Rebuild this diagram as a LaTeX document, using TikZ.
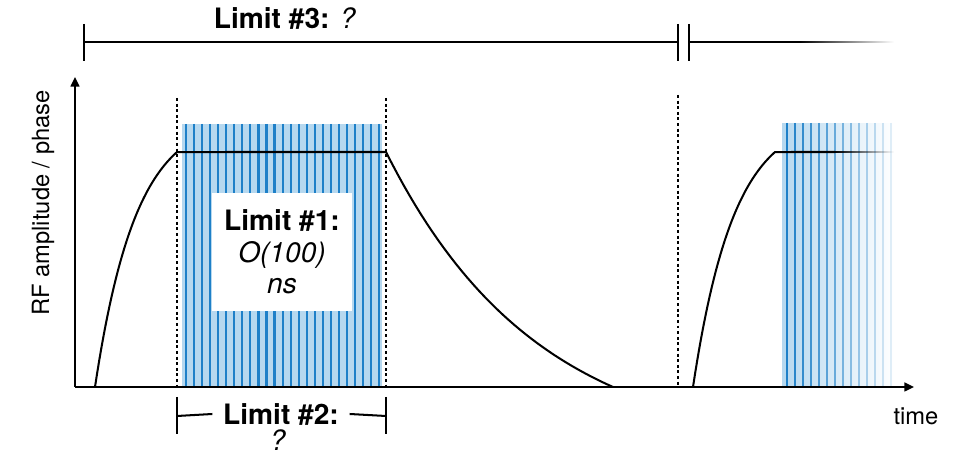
\documentclass[tikz,border=0pt]{standalone}
\usepackage{fontspec}
\setmainfont{TeX Gyre Heros}
\usetikzlibrary{arrows.meta, positioning, calc, fadings}
\definecolor{pulselight}{HTML}{B6D8EF}
\definecolor{stripeblue}{HTML}{1E80C8}
\tikzfading[name=tail fade, left color=transparent!0, right color=transparent!100]
\tikzset{
    axis/.style={-{Triangle[length=5.5pt, width=5pt]}, line width=1.15pt, color=black},
    envelope/.style={line width=1.15pt, color=black, line join=miter},
    gate/.style={line width=1.3pt, dash pattern=on 1.7pt off 1.5pt},
    bracket/.style={line width=1.15pt, color=black},
    pulse/.style={fill=pulselight, draw=none},
    stripe/.style={line width=1.2pt, color=stripeblue},
    limit label/.style={font=\fontsize{16}{19}\selectfont, inner sep=1pt},
    axis label/.style={font=\fontsize{13.5}{16}\selectfont, inner sep=0pt},
    limit box/.style={
        rectangle, fill=white, draw=none,
        minimum width=2.8cm, minimum height=2.38cm,
        align=center, inner sep=0pt,
        font=\fontsize{16}{18}\selectfont
    }
}

\begin{document}
\begin{tikzpicture}[x=0.02cm, y=-0.02cm]
    \useasboundingbox (0,0) rectangle (961,455);

    % --- Pulse 1: striped RF window ---
    \fill[pulse] (182,124) rectangle (382,387);
    \foreach \i in {0,...,24}
        \draw[stripe] ({186+8.05*\i},124) -- ({186+8.05*\i},387);

    % --- Pulse 2: same window, fading out ---
    \fill[pulse, path fading=tail fade] (782,123) rectangle (894,387);
    \foreach \i [evaluate=\i as \op using 1-\i/15] in {0,...,13}
        \draw[stripe, opacity=\op] ({787+8*\i},123) -- ({787+8*\i},387);

    % --- Envelopes (fill, flat top, decay) ---
    \draw[envelope]
        plot[domain=0:1, variable=\t, samples=40]
            ({95+82*\t}, {387-235*(1-exp(-2*\t))/(1-exp(-2))})
        -- plot[domain=0:1, variable=\t, samples=40]
            ({386+227*\t}, {152+235*(1-(exp(-1.5*\t)-exp(-1.5))/(1-exp(-1.5)))});
    \coordinate (top2fade) at (835,152);
    \coordinate (top2end)  at (894,152);
    \draw[envelope]
        plot[domain=0:1, variable=\t, samples=40]
            ({693+82*\t}, {387-235*(1-exp(-2*\t))/(1-exp(-2))})
        -- (top2fade);
    \fill[black, path fading=tail fade]
        ($(top2fade)+(0,-1)$) rectangle ($(top2end)+(0,1)$);

    % --- Gate markers (dashed) ---
    \coordinate (g1top) at (177,98);  \coordinate (g1bot) at (177,387);
    \coordinate (g2top) at (386,98);  \coordinate (g2bot) at (386,387);
    \coordinate (g3top) at (678,95);  \coordinate (g3bot) at (678,387);
    \draw[gate] (g1top) -- (g1bot);
    \draw[gate] (g2top) -- (g2bot);
    \draw[gate] (g3top) -- (g3bot);

    % --- Axes ---
    \coordinate (origin) at (75,387);
    \coordinate (ytip)   at (75,77);
    \coordinate (xtip)   at (914,387);
    \draw[axis] (origin) -- (ytip);
    \draw[axis] (origin) -- (xtip);
    \node[axis label, rotate=90] (ylabel) at (43,203) {RF amplitude / phase};
    \node[axis label] (tlabel) at (916,416) {time};

    % --- Limit #1 ---
    \node[limit box] (lim1) at (282,252)
        {\textbf{Limit \#1:}\\\textit{O(100)}\\\textit{ns}};

    % --- Limit #2 ---
    \node[limit label, inner xsep=6pt] (lim2) at (281,414) {\textbf{Limit \#2:}};
    \node[limit label, inner sep=0pt] (lim2q) at (278,440) {\textit{?}};
    \coordinate (l2left)  at (177,416);
    \coordinate (l2right) at (386,416);
    \draw[bracket] (l2left) -- (lim2.west);
    \draw[bracket] (lim2.east) -- (l2right);
    \draw[bracket] ($(l2left)+(0,-19)$)  -- ($(l2left)+(0,18)$);
    \draw[bracket] ($(l2right)+(0,-19)$) -- ($(l2right)+(0,18)$);

    % --- Limit #3 ---
    \node[limit label] (lim3) at (285,18) {\textbf{Limit \#3:} \textit{?}};
    \coordinate (l3left)   at (84,42);
    \coordinate (l3break)  at (678,42);
    \coordinate (l3resume) at (689,42);
    \coordinate (l3fade)   at (800,42);
    \coordinate (l3end)    at (894,42);
    \draw[bracket] (l3left) -- (l3break);
    \draw[bracket] (l3resume) -- (l3fade);
    \fill[black, path fading=tail fade]
        ($(l3fade)+(0,-1)$) rectangle ($(l3end)+(0,1)$);
    \draw[bracket] ($(l3left)+(0,-18)$)   -- ($(l3left)+(0,19)$);
    \draw[bracket] ($(l3break)+(0,-18)$)  -- ($(l3break)+(0,19)$);
    \draw[bracket] ($(l3resume)+(0,-18)$) -- ($(l3resume)+(0,19)$);

\end{tikzpicture}
\end{document}
